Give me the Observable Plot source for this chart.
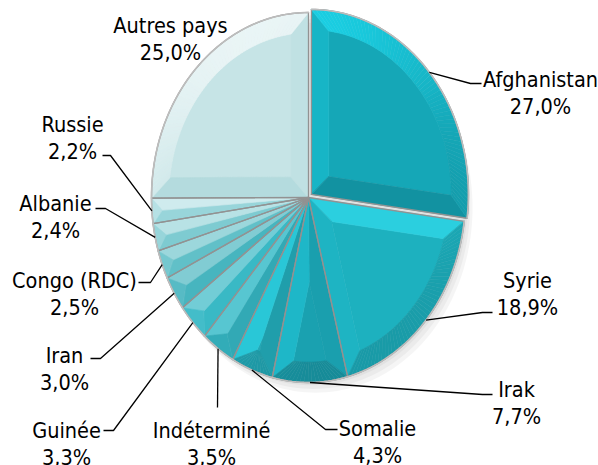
<!DOCTYPE html>
<html><head><meta charset="utf-8">
<script src="https://cdn.jsdelivr.net/npm/d3@7"></script>
<script src="https://cdn.jsdelivr.net/npm/@observablehq/plot@0.6"></script>
<style>html,body{margin:0;padding:0;background:#fff;}</style>
</head><body><div id="chart"></div>
<script>
// ---- data ----
const countries = ["Afghanistan","Syrie","Irak","Somalie","Indéterminé","Guinée","Iran","Congo (RDC)","Albanie","Russie","Autres pays"];
const shares = [27.0, 18.9, 7.7, 4.3, 3.5, 3.3, 3.0, 2.5, 2.4, 2.2, 25.0];

// ---- styles ----
const palette = ["#15a7b7","#1db1bf","#1aa1b0","#22aab8","#36b8c5","#4cc0cb","#5bbdc6","#76c8cf","#93d3d8","#acdde1","#c6e4e6"];
const explodeIndex = 0, explodeDist = 0.025;

// ---- layout (pixels) ----
const W = 598, H = 465, CX = 308, CY = 197, RX = 157, RY = 185;
// [textX, textCenterY, elbowX, elbowY, attachX, attachY]
const labelLayout = [
  [540, 91, 470, 83, 481, 83],
  [527, 292, 482, 312, 492, 312],
  [516, 401, 482, 394, 492, 394],
  [377, 440, 325, 429, 337, 429],
  [211, 442, 217, 407, 217, 407],
  [66, 442, 113, 430, 103, 430],
  [64, 367, 100, 358, 90, 358],
  [74, 292, 150, 282, 138, 282],
  [55, 215, 105, 208, 95, 208],
  [72, 136, 110, 155, 102, 155],
  [170, 37, null, null, null, null]
];

const ux = px => (px - CX) / RX, uy = py => (CY - py) / RY;
const arcs = d3.pie().sort(null).value(d => d)(shares);

const Lv = [-0.35, 1], Ln = Math.hypot(...Lv), L = [Lv[0]/Ln, Lv[1]/Ln];
function shade(base, ang) {
  const k = Math.sin(ang) * L[0] + Math.cos(ang) * L[1];
  const c = d3.hsl(base);
  c.l = Math.max(0, Math.min(0.97, c.l + (k > 0 ? 0.10 : 0.055) * k));
  return c.formatHex();
}
const pt = (a, r, off) => [off[0] + r * Math.sin(a), off[1] + r * Math.cos(a)];

const facetRows = [], outlineRows = [], rimRows = [], shadowRows = [];
let pid = 0;
function addPoly(target, points, fill) {
  const id = pid++;
  points.forEach(([x, y]) => target.push({id, x, y, fill}));
}
const d = 0.11;
arcs.forEach((s, i) => {
  const a0 = s.startAngle, a1 = s.endAngle, m = (a0 + a1) / 2, h = (a1 - a0) / 2;
  const e = i === explodeIndex ? explodeDist : 0;
  const off = [e * Math.sin(m), e * Math.cos(m)];
  const base = palette[i];
  const n = Math.max(2, Math.ceil((a1 - a0) / (Math.PI / 120)));
  const rin = 1 - d, delta = Math.asin(d / rin);
  if (h > delta) {
    const A = pt(m, d / Math.sin(h), off);
    const inner = d3.range(n + 1).map(k => pt(a0 + delta + (a1 - a0 - 2 * delta) * k / n, rin, off));
    addPoly(facetRows, [A, ...inner], base);
    addPoly(facetRows, [off, pt(a0, 1, off), pt(a0 + delta, rin, off), A], shade(base, a0 - Math.PI / 2));
    addPoly(facetRows, [off, pt(a1, 1, off), pt(a1 - delta, rin, off), A], shade(base, a1 + Math.PI / 2));
    for (let k = 0; k < n; k++) {
      const u0 = a0 + (a1 - a0) * k / n, u1 = a0 + (a1 - a0) * (k + 1) / n;
      const v0 = a0 + delta + (a1 - a0 - 2 * delta) * k / n, v1 = a0 + delta + (a1 - a0 - 2 * delta) * (k + 1) / n;
      addPoly(facetRows, [pt(u0, 1, off), pt(u1, 1, off), pt(v1, rin, off), pt(v0, rin, off)], shade(base, (u0 + u1) / 2));
    }
  } else {
    const R = pt(m, 1 / (1 + Math.sin(h)), off);
    addPoly(facetRows, [off, pt(a0, 1, off), R], shade(base, a0 - Math.PI / 2));
    addPoly(facetRows, [off, pt(a1, 1, off), R], shade(base, a1 + Math.PI / 2));
    const outer = d3.range(n + 1).map(k => pt(a0 + (a1 - a0) * k / n, 1, off));
    addPoly(facetRows, [...outer, R], shade(base, m));
  }
  const outerArc = d3.range(n + 1).map(k => pt(a0 + (a1 - a0) * k / n, 1, off));
  addPoly(outlineRows, [off, ...outerArc], "none");
  addPoly(rimRows, outerArc, "none");
});
// soft shadow under the pie
[[0.015, -0.015], [0.03, -0.035], [0.045, -0.055]].forEach(([dx, dy]) => {
  addPoly(shadowRows, d3.range(181).map(k => pt(k * Math.PI / 90, 1, [dx, dy])), "#000");
});

// labels + leaders
const fmt = v => v.toFixed(1).replace(".", ",") + "%";
const labelRows = countries.map((c, i) => ({
  x: ux(labelLayout[i][0]), y: uy(labelLayout[i][1]), text: c + "\n" + fmt(shares[i])
}));
const leaderRows = [];
arcs.forEach((s, i) => {
  const lay = labelLayout[i];
  if (lay[2] == null) return;
  const m = (s.startAngle + s.endAngle) / 2;
  const e = i === explodeIndex ? explodeDist : 0;
  const E = pt(m, 1, [e * Math.sin(m), e * Math.cos(m)]);
  [E, [ux(lay[2]), uy(lay[3])], [ux(lay[4]), uy(lay[5])]].forEach(([x, y]) => leaderRows.push({id: i, x, y}));
});

const plot = Plot.plot({
  width: W, height: H,
  margin: 0,
  x: {domain: [ux(0), ux(W)], range: [0, W], axis: null},
  y: {domain: [uy(H), uy(0)], range: [H, 0], axis: null},
  color: {type: "identity"},
  marks: [
    Plot.line(shadowRows, {x: "x", y: "y", z: "id", fill: "#000", fillOpacity: 0.04, stroke: "none", curve: "linear-closed"}),
    Plot.line(facetRows, {x: "x", y: "y", z: "id", fill: "fill", stroke: "fill", strokeWidth: 0.6, curve: "linear-closed"}),
    Plot.line(outlineRows, {x: "x", y: "y", z: "id", fill: "none", stroke: "#929292", strokeWidth: 1.3, curve: "linear-closed"}),
    Plot.line(rimRows, {x: "x", y: "y", z: "id", stroke: "#bdbdbd", strokeWidth: 1.6}),
    Plot.line(leaderRows, {x: "x", y: "y", z: "id", stroke: "#000", strokeWidth: 1.3, strokeLinecap: "butt", strokeLinejoin: "miter"}),
    Plot.text(labelRows, {x: "x", y: "y", text: "text", fontSize: 21.5, fontFamily: "DejaVu Sans Condensed", lineHeight: 1.27, lineAnchor: "middle", textAnchor: "middle", fill: "#000"})
  ]
});
document.getElementById("chart").appendChild(plot);
</script>
</body></html>
